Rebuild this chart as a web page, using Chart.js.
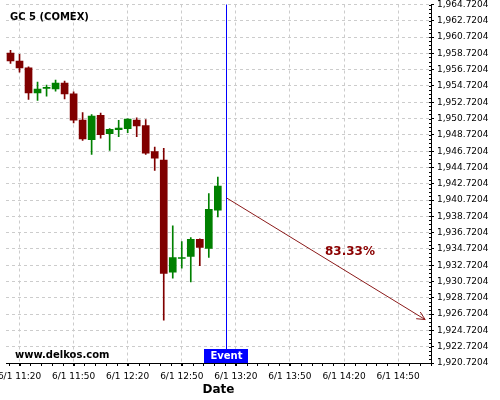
<!DOCTYPE html>
<html><head><meta charset="utf-8">
<script src="https://cdn.jsdelivr.net/npm/chart.js@4/dist/chart.umd.min.js"></script>
<style>html,body{margin:0;padding:0;background:#fff}#wrap{width:500px;height:400px}</style>
</head><body><div id="wrap"><canvas id="c" width="500" height="400"></canvas></div>
<script>
// ---- data ----
const chartTitle = 'GC 5 (COMEX)';
const datePrefix = '6/1';
const categories = ['11:15','11:20','11:25','11:30','11:35','11:40','11:45','11:50','11:55','12:00','12:05','12:10','12:15','12:20','12:25','12:30','12:35','12:40','12:45','12:50','12:55','13:00','13:05','13:10'];
const opens  = [1958.76,1957.77,1956.95,1953.88,1954.42,1954.37,1955.07,1953.75,1950.55,1948.12,1951.13,1948.86,1949.35,1949.48,1950.55,1949.85,1946.68,1945.62,1931.86,1933.55,1933.79,1935.89,1934.78,1939.47];
const closes = [1957.81,1956.95,1953.88,1954.33,1954.48,1955.07,1953.75,1950.52,1948.21,1951.04,1948.74,1949.40,1949.56,1950.67,1949.81,1946.48,1945.86,1931.70,1933.67,1933.67,1935.89,1934.90,1939.59,1942.43];
const highs  = [1959.09,1958.60,1957.07,1955.19,1954.82,1955.44,1955.32,1954.00,1951.45,1951.20,1951.38,1949.48,1950.51,1950.70,1950.80,1950.59,1947.21,1947.06,1937.57,1935.61,1936.10,1935.95,1941.52,1943.54];
const lows   = [1957.49,1956.42,1953.07,1952.94,1953.47,1954.09,1953.14,1950.19,1948.05,1946.32,1948.30,1946.82,1948.49,1948.98,1948.49,1946.32,1944.37,1925.99,1931.12,1932.35,1930.67,1932.66,1933.69,1938.65];
const yTicks = [1920.7204,1922.7204,1924.7204,1926.7204,1928.7204,1930.7204,1932.7204,1934.7204,1936.7204,1938.7204,1940.7204,1942.7204,1944.7204,1946.7204,1948.7204,1950.7204,1952.7204,1954.7204,1956.7204,1958.7204,1960.7204,1962.7204,1964.7204];
const xTickLabels = ['11:20','11:50','12:20','12:50','13:20','13:50','14:20','14:50'];
const xRange = ['11:12:30','15:08:15'];
const eventTime = '13:15';
const eventLabel = 'Event';
const arrowFrom = ['13:15', 1940.96];
const arrowTo = ['15:05', 1926.05];
const arrowLabel = '83.33%';
const watermark = 'www.delkos.com';
const xTitle = 'Date';

function toMin(s){const p=s.split(':').map(Number);return p[0]*60+p[1]+(p[2]||0)/60;}
const UP='#008000', DOWN='#800000';
const colors = opens.map((o,i)=> closes[i]>=o ? UP : DOWN);
const bodyData = categories.map((t,i)=>({x:toMin(t), y:[opens[i], closes[i]]}));
const wickData = categories.map((t,i)=>({x:toMin(t), y:[lows[i], highs[i]]}));

Chart.defaults.font.family = '"DejaVu Sans", sans-serif';
Chart.defaults.color = '#000';

const overlay = {
  id:'overlay',
  afterDatasetsDraw(chart){
    const {ctx, chartArea:a, scales:{x,y}} = chart;
    ctx.save();
    ctx.setLineDash([]);
    // minor ticks y
    ctx.strokeStyle='#000'; ctx.lineWidth=1;
    ctx.beginPath();
    for(let v=yTicks[0]; v<=yTicks[yTicks.length-1]+1e-6; v+=0.5){
      const py=Math.round(y.getPixelForValue(v))+0.5;
      ctx.moveTo(a.right-2,py); ctx.lineTo(a.right,py);
    }
    // minor ticks x
    const t0=toMin(xTickLabels[0]);
    for(let t=t0-6*5; t<=x.max; t+=6){
      if(t<x.min) continue;
      const px=Math.round(x.getPixelForValue(t))+0.5;
      ctx.moveTo(px,a.bottom); ctx.lineTo(px,a.bottom+3);
    }
    ctx.stroke();
    // event line
    const ex=Math.floor(x.getPixelForValue(toMin(eventTime)))+0.5;
    ctx.strokeStyle='#0000ff'; ctx.lineWidth=1;
    ctx.beginPath(); ctx.moveTo(ex,a.top); ctx.lineTo(ex,a.bottom); ctx.stroke();
    // arrow
    const x1=x.getPixelForValue(toMin(arrowFrom[0])), y1=y.getPixelForValue(arrowFrom[1]);
    const x2=x.getPixelForValue(toMin(arrowTo[0])), y2=y.getPixelForValue(arrowTo[1]);
    ctx.strokeStyle='#8B1A1A';
    ctx.beginPath(); ctx.moveTo(x1,y1); ctx.lineTo(x2,y2);
    const ang=Math.atan2(y2-y1,x2-x1), L=9, sp=0.45;
    ctx.moveTo(x2-L*Math.cos(ang-sp), y2-L*Math.sin(ang-sp)); ctx.lineTo(x2,y2);
    ctx.lineTo(x2-L*Math.cos(ang+sp), y2-L*Math.sin(ang+sp));
    ctx.stroke();
    ctx.fillStyle='#8B0000'; ctx.font='bold 12px "DejaVu Sans"';
    ctx.textAlign='center'; ctx.textBaseline='middle';
    ctx.fillText(arrowLabel,(x1+x2)/2+24,(y1+y2)/2-7);
    // event box
    ctx.fillStyle='#0000ff'; ctx.fillRect(Math.round(ex-22.5), a.bottom-14, 44, 14);
    ctx.fillStyle='#fff'; ctx.font='bold 10px "DejaVu Sans"';
    ctx.fillText(eventLabel, ex, a.bottom-6.5);
    // title & watermark
    ctx.fillStyle='#000'; ctx.textAlign='left'; ctx.textBaseline='alphabetic';
    ctx.fillText(chartTitle, 10, 19.5);
    ctx.fillText(watermark, 15, 358);
    ctx.restore();
  }
};

new Chart(document.getElementById('c'), {
  type:'bar',
  data:{datasets:[
    {data:wickData, backgroundColor:colors, barThickness:1, grouped:false, order:2, borderWidth:0},
    {data:bodyData, backgroundColor:colors, barThickness:7, grouped:false, order:1, borderWidth:0, minBarLength:1}
  ]},
  options:{
    responsive:false, animation:false, devicePixelRatio:1,
    layout:{padding:{left:6, top:4.5, right:0, bottom:0}},
    plugins:{legend:{display:false}, tooltip:{enabled:false}},
    scales:{
      x:{type:'linear', offset:false, min:toMin(xRange[0]), max:toMin(xRange[1]),
        grid:{offset:false, color:'#cccccc', tickLength:3, tickColor:'#000', tickBorderDash:[]},
        border:{display:true, color:'#000', width:1, dash:[3,3]},
        ticks:{autoSkip:false, maxRotation:0, padding:5, font:{size:9}, color:'#000',
          callback:(v)=>{const i=xTickLabels.findIndex(l=>Math.abs(toMin(l)-v)<1e-6);return i>=0?datePrefix+' '+xTickLabels[i]:'';}},
        afterBuildTicks:(s)=>{s.ticks=xTickLabels.map(l=>({value:toMin(l)}));},
        afterFit:(s)=>{s.height=37; s.paddingLeft=0; s.paddingRight=0;},
        title:{display:true, text:xTitle, font:{size:12, weight:'bold'}, color:'#000', padding:{top:0,bottom:3}}
      },
      y:{type:'linear', position:'right', min:yTicks[0], max:yTicks[yTicks.length-1],
        grid:{color:'#cccccc', tickLength:3, tickColor:'#000', tickBorderDash:[]},
        border:{display:true, color:'#000', width:1, dash:[3,3]},
        ticks:{padding:3, font:{size:9}, color:'#000',
          callback:(v)=>v.toLocaleString('en-US',{minimumFractionDigits:4, maximumFractionDigits:4})},
        afterBuildTicks:(s)=>{s.ticks=yTicks.map(v=>({value:v}));},
        afterFit:(s)=>{s.width=69; s.paddingTop=0; s.paddingBottom=0;}
      }
    }
  },
  plugins:[overlay]
});
</script></body></html>
